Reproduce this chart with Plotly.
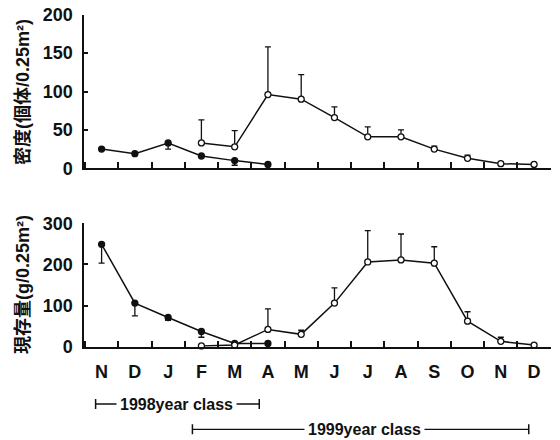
import plotly.graph_objects as go

months = ["N", "D", "J", "F", "M", "A", "M", "J", "J", "A", "S", "O", "N", "D"]

# Density (individuals / 0.25 m2)
dens98_x = [0, 1, 2, 3, 4, 5]
dens98_y = [25, 19, 33, 16, 10, 5]
dens98_err_minus = [0, 0, 8, 0, 6, 0]

dens99_x = [3, 4, 5, 6, 7, 8, 9, 10, 11, 12, 13]
dens99_y = [33, 28, 96, 90, 66, 41, 41, 25, 13, 6, 5]
dens99_err_plus = [30, 21, 62, 32, 14, 13, 9, 4, 4, 0, 0]

# Standing crop (g / 0.25 m2)
bio98_x = [0, 1, 2, 3, 4, 5]
bio98_y = [249, 106, 71, 37, 8, 8]
bio98_err_minus = [46, 31, 7, 14, 0, 0]

bio99_x = [3, 4, 5, 6, 7, 8, 9, 10, 11, 12, 13]
bio99_y = [2, 4, 42, 30, 106, 206, 211, 203, 62, 13, 4]
bio99_err_plus = [0, 0, 50, 10, 37, 76, 63, 40, 23, 10, 0]

FONT = "Liberation Sans, Arial, Noto Sans CJK JP"
BLACK = "#111111"

fig = go.Figure()

def add_series(x, y, xa, ya, filled, eplus=None, eminus=None):
    err = None
    if eplus is not None:
        err = dict(type="data", symmetric=False, array=eplus, arrayminus=[0] * len(eplus),
                   color=BLACK, thickness=1.3, width=3)
    if eminus is not None:
        err = dict(type="data", symmetric=False, array=[0] * len(eminus), arrayminus=eminus,
                   color=BLACK, thickness=1.3, width=3)
    fig.add_trace(go.Scatter(
        x=x, y=y, xaxis=xa, yaxis=ya, mode="lines+markers",
        line=dict(color=BLACK, width=1.5),
        marker=dict(symbol="circle", size=6,
                    color=BLACK if filled else "white", line=dict(color=BLACK, width=1.3)),
        error_y=err, showlegend=False, cliponaxis=False,
    ))

add_series(dens99_x, dens99_y, "x", "y", False, eplus=dens99_err_plus)
add_series(dens98_x, dens98_y, "x", "y", True, eminus=dens98_err_minus)
add_series(bio98_x, bio98_y, "x2", "y2", True, eminus=bio98_err_minus)
add_series(bio99_x, bio99_y, "x2", "y2", False, eplus=bio99_err_plus)

xdom = [84.3 / 560, 550.7 / 560]
xrange = [-0.52, 13.5]
half = [i + 0.5 for i in range(-1, 13)]

xcommon = dict(range=xrange, domain=xdom, showline=True, linecolor=BLACK, linewidth=2,
               showgrid=False, zeroline=False, ticks="", fixedrange=True, automargin=False,
               minor=dict(tickvals=half, ticks="inside", ticklen=6, tickwidth=1.5, tickcolor=BLACK,
                          showgrid=False))

ycommon = dict(showline=True, linecolor=BLACK, linewidth=2, showgrid=False, zeroline=False,
               ticks="inside", ticklen=4, tickwidth=1.5, tickcolor=BLACK, automargin=False,
               fixedrange=True,
               tickfont=dict(family=FONT, size=18, color=BLACK, weight="bold"),
               ticklabelstandoff=6)

fig.update_layout(
    template="none",
    width=560, height=440,
    margin=dict(l=0, r=0, t=0, b=0, pad=0),
    paper_bgcolor="white", plot_bgcolor="white",
    showlegend=False,
    xaxis=dict(**xcommon, anchor="y", showticklabels=False),
    yaxis=dict(**ycommon, domain=[1 - 168.3 / 440, 1 - 14.7 / 440], range=[0, 200],
               tickvals=[0, 50, 100, 150, 200], anchor="x"),
    xaxis2=dict(**xcommon, anchor="y2", tickvals=list(range(len(months))), ticktext=months,
                tickfont=dict(family=FONT, size=18, color=BLACK, weight="bold"),
                ticklabelstandoff=8),
    yaxis2=dict(**ycommon, domain=[1 - 346.7 / 440, 1 - 223.3 / 440], range=[0, 300],
                tickvals=[0, 100, 200, 300], anchor="x2"),
)

# Y-axis titles
fig.add_annotation(text="密度(個体/0.25m²)", xref="paper", yref="paper", x=23 / 560, y=1 - 92 / 440,
                   xanchor="center", yanchor="middle", textangle=-90, showarrow=False,
                   font=dict(family=FONT, size=18, color=BLACK, weight="bold"))
fig.add_annotation(text="現存量(g/0.25m²)", xref="paper", yref="paper", x=23 / 560, y=1 - 285 / 440,
                   xanchor="center", yanchor="middle", textangle=-90, showarrow=False,
                   font=dict(family=FONT, size=18, color=BLACK, weight="bold"))

# Year-class brackets
brackets = [
    ("1998year class", -0.18, 4.74, 1 - 404 / 440, 2.25),
    ("1999year class", 2.73, 12.84, 1 - 429.3 / 440, 7.91),
]
for label, x0, x1, yy, xc in brackets:
    fig.add_shape(type="line", xref="x2", yref="paper", x0=x0, x1=x1, y0=yy, y1=yy,
                  line=dict(color=BLACK, width=1.3))
    for xe in (x0, x1):
        fig.add_shape(type="line", xref="x2", yref="paper", x0=xe, x1=xe,
                      y0=yy - 5 / 440, y1=yy + 5 / 440, line=dict(color=BLACK, width=1.5))
    fig.add_annotation(text=label, xref="x2", yref="paper", x=xc, y=yy, showarrow=False,
                       xanchor="center", yanchor="middle", bgcolor="white", borderpad=3,
                       font=dict(family=FONT, size=16, color=BLACK, weight="bold"))

fig.write_html("out.html")
